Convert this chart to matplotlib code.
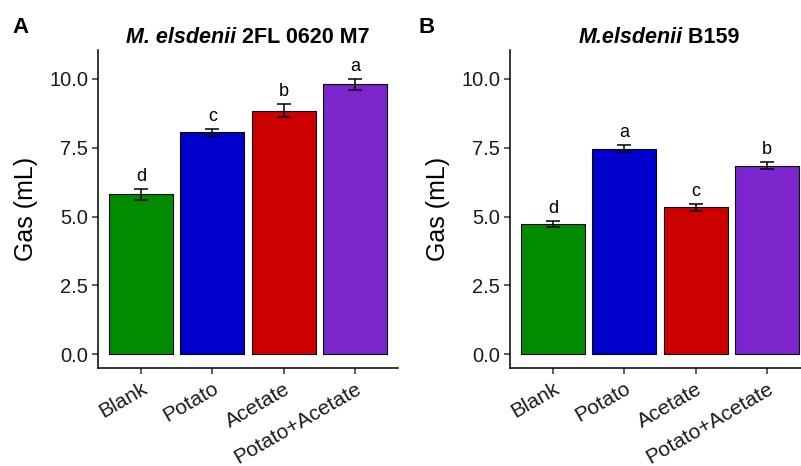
import matplotlib
matplotlib.use("Agg")
import matplotlib.pyplot as plt
from matplotlib.transforms import ScaledTranslation

plt.rcParams['font.family'] = ['Liberation Sans', 'DejaVu Sans']

categories = ["Blank", "Potato", "Acetate", "Potato+Acetate"]
colors = ["#008B00", "#0000CD", "#CD0000", "#7D26CD"]

means_a = [5.81, 8.06, 8.85, 9.80]
errs_a = [0.20, 0.12, 0.24, 0.20]
letters_a = ["d", "c", "b", "a"]
title_a = ("M. elsdenii", " 2FL 0620 M7")

means_b = [4.73, 7.47, 5.33, 6.85]
errs_b = [0.12, 0.12, 0.12, 0.12]
letters_b = ["d", "a", "c", "b"]
title_b = ("M.elsdenii", " B159")

yticks = [0.0, 2.5, 5.0, 7.5, 10.0]

W, H = 801, 466
fig = plt.figure(figsize=(W / 100, H / 100), dpi=100)
renderer = fig.canvas.get_renderer()


def px_axes(l, r, t, b):
    return fig.add_axes([l / W, 1 - b / H, (r - l) / W, (b - t) / H])


def draw(ax, means, errs, letters):
    x = list(range(1, len(categories) + 1))
    ax.bar(x, means, width=0.9, color=colors, edgecolor="black", linewidth=0.8, zorder=2)
    ax.errorbar(x, means, yerr=errs, fmt="none", ecolor="black", elinewidth=1.1,
                capsize=5, capthick=1.1, zorder=3)
    for xi, m, e, lab in zip(x, means, errs, letters):
        ax.annotate(lab, (xi, m + e), xytext=(0, 3), textcoords="offset points",
                    ha="center", va="bottom", fontsize=13, color="black")
    ax.set_xlim(0.4, 4.6)
    ax.set_ylim(-0.5, 11.05)
    ax.set_yticks(yticks)
    ax.set_yticklabels([f"{v:.1f}" for v in yticks])
    ax.set_xticks(x)
    ax.set_xticklabels(categories, rotation=30, ha="right", va="top",
                       rotation_mode="anchor")
    shift = ScaledTranslation(3 / 100, 0, fig.dpi_scale_trans)
    for lbl in ax.get_xticklabels():
        lbl.set_transform(lbl.get_transform() + shift)
    for s in ["top", "right"]:
        ax.spines[s].set_visible(False)
    for s in ["left", "bottom"]:
        ax.spines[s].set_linewidth(1.1)
        ax.spines[s].set_color("black")
    ax.tick_params(axis="both", length=4, width=1.1, color="#333333",
                   labelsize=14.5, labelcolor="#1a1a1a", pad=3)
    ax.tick_params(axis="x", labelsize=15, pad=4)
    ax.set_ylabel("Gas (mL)", fontsize=18, labelpad=8)


def title(cx_px, base_px, parts):
    t1 = fig.text(0, 0, parts[0], fontsize=15.5, fontweight="bold", fontstyle="italic")
    t2 = fig.text(0, 0, parts[1], fontsize=15.5, fontweight="bold")
    w1 = t1.get_window_extent(renderer).width
    w2 = t2.get_window_extent(renderer).width
    x0 = cx_px - (w1 + w2) / 2
    t1.set_position((x0 / W, 1 - base_px / H))
    t1.set_va("baseline")
    t2.set_position(((x0 + w1) / W, 1 - base_px / H))
    t2.set_va("baseline")


ax_a = px_axes(98, 398, 50, 368)
ax_b = px_axes(510, 810, 50, 368)

draw(ax_a, means_a, errs_a, letters_a)
draw(ax_b, means_b, errs_b, letters_b)

title(248, 43, title_a)
title(659, 43, title_b)

fig.text(12 / W, 1 - 33 / H, "A", fontsize=16, fontweight="bold", ha="left", va="baseline")
fig.text(418 / W, 1 - 33 / H, "B", fontsize=16, fontweight="bold", ha="left", va="baseline")

fig.savefig("out.png", dpi=100)
